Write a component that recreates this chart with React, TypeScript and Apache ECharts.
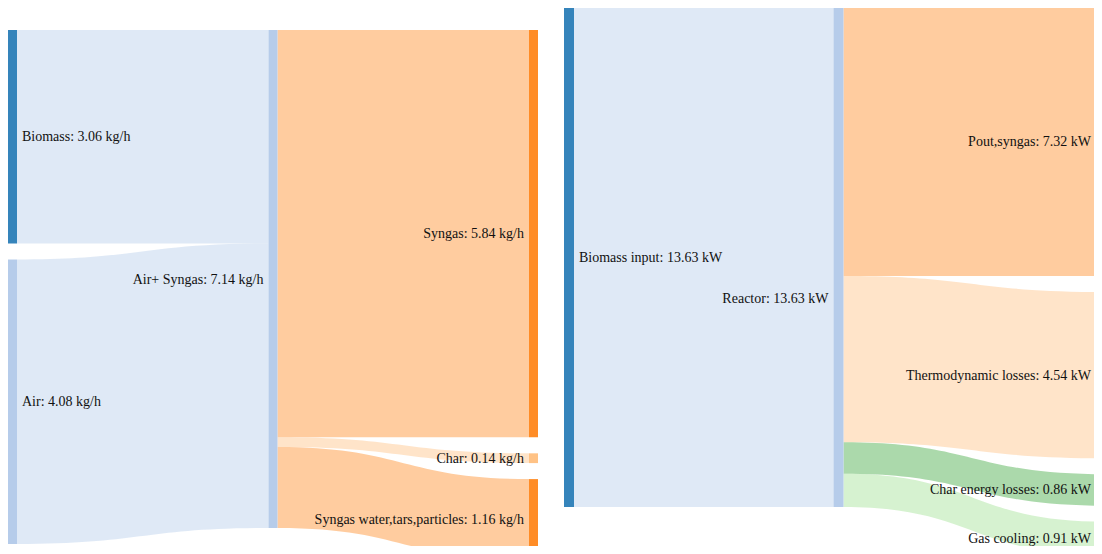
import React, { useEffect, useRef } from "react";
import * as echarts from "echarts";

// Mass balance (left diagram)
const massNodes = ["Biomass", "Air", "Air+ Syngas", "Syngas", "Char", "Syngas water,tars,particles"];
const massColors = ["#1f77b4", "#aec7e8", "#aec7e8", "#ff7f0e", "#ffbb78", "#ff7f0e"];
const massSources = ["Biomass", "Air", "Air+ Syngas", "Air+ Syngas", "Air+ Syngas"];
const massTargets = ["Air+ Syngas", "Air+ Syngas", "Syngas", "Char", "Syngas water,tars,particles"];
const massValues = [3.06, 4.08, 5.84, 0.14, 1.16];
const massUnit = "kg/h";

// Energy balance (right diagram)
const energyNodes = ["Biomass input", "Reactor", "Pout,syngas", "Thermodynamic losses", "Char energy losses", "Gas cooling"];
const energyColors = ["#1f77b4", "#aec7e8", "#ff7f0e", "#ffbb78", "#2ca02c", "#98df8a"];
const energySources = ["Biomass input", "Reactor", "Reactor", "Reactor", "Reactor"];
const energyTargets = ["Reactor", "Pout,syngas", "Thermodynamic losses", "Char energy losses", "Gas cooling"];
const energyValues = [13.63, 7.32, 4.54, 0.86, 0.91];
const energyUnit = "kW";

function buildSeries(
  names: string[],
  colors: string[],
  sources: string[],
  targets: string[],
  values: number[],
  unit: string,
  box: { left: number; top: number; width: number; height: number; nodeWidth: number; sinkLabelDistance: number },
  labelOffsets: Record<string, [number, number]> = {}
) {
  const isSourceOnly = (n: string) => !targets.includes(n);
  const isSinkOnly = (n: string) => !sources.includes(n);
  return {
    type: "sankey",
    left: box.left,
    top: box.top,
    width: box.width,
    height: box.height,
    nodeWidth: box.nodeWidth,
    nodeGap: 16,
    layoutIterations: 0,
    draggable: false,
    silent: true,
    emphasis: { disabled: true },
    data: names.map((n, i) => ({
      name: n,
      itemStyle: { color: colors[i], opacity: 0.9, borderWidth: 0 },
      label: {
        position: isSourceOnly(n) ? "right" : "left",
        ...(isSinkOnly(n) ? { distance: box.sinkLabelDistance } : {}),
        ...(labelOffsets[n] ? { offset: labelOffsets[n] } : {}),
      },
    })),
    links: sources.map((s, i) => ({ source: s, target: targets[i], value: values[i] })),
    lineStyle: { color: "target", opacity: 0.4, curveness: 0.5 },
    label: {
      color: "#111",
      fontFamily: "Liberation Serif",
      fontSize: 14,
      distance: 5,
      formatter: (p: any) => `${p.name}: ${Number(p.value).toFixed(2)} ${unit}`,
    },
  };
}

export default function App() {
  const ref = useRef<HTMLDivElement>(null);
  useEffect(() => {
    if (!ref.current) return;
    const chart = echarts.init(ref.current, undefined, { renderer: "svg" });
    chart.setOption({
      animation: false,
      backgroundColor: "#fff",
      series: [
        buildSeries(massNodes, massColors, massSources, massTargets, massValues, massUnit, {
          left: 0,
          top: 22,
          width: 530,
          height: 530,
          nodeWidth: 9,
          sinkLabelDistance: 5,
        }),
        buildSeries(
          energyNodes,
          energyColors,
          energySources,
          energyTargets,
          energyValues,
          energyUnit,
          { left: 556, top: 0, width: 549, height: 547, nodeWidth: 10, sinkLabelDistance: 12 },
          { Reactor: [0, 41] }
        ),
      ],
    });
    return () => chart.dispose();
  }, []);
  return (
    <div
      ref={ref}
      style={{ width: 1094, height: 546, marginBottom: -8, overflow: "hidden" }}
    />
  );
}
